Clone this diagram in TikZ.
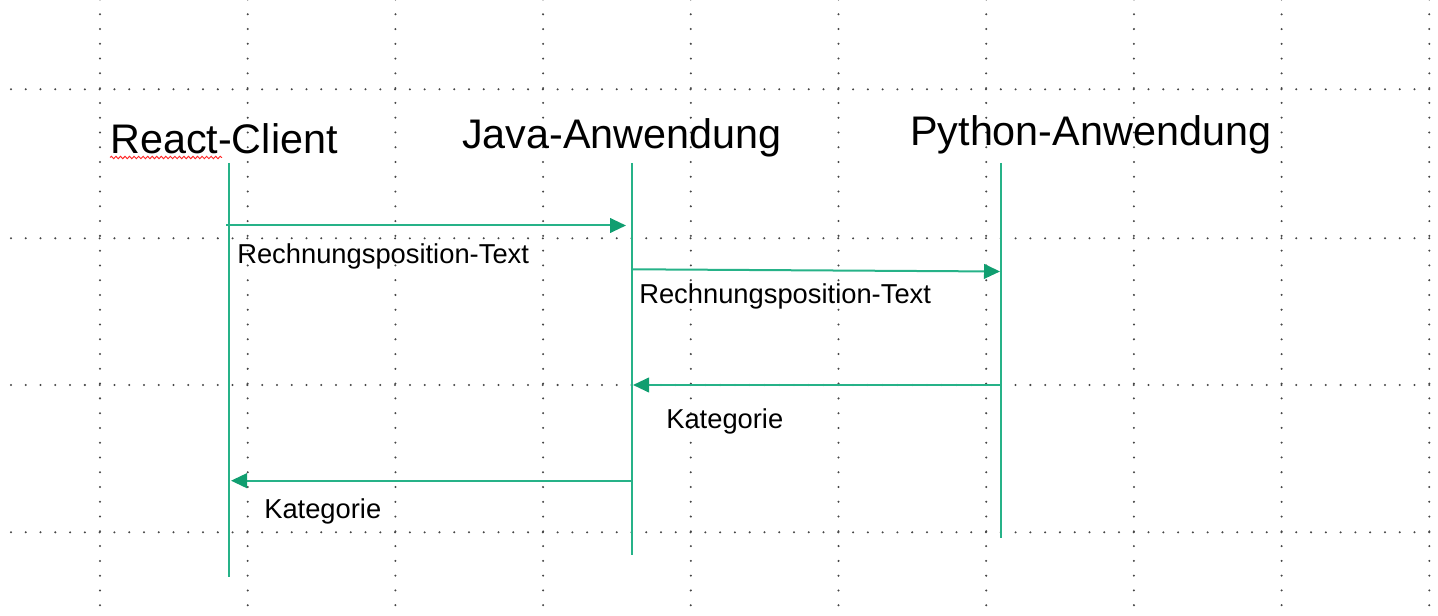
\documentclass[tikz,border=0pt]{standalone}
\usepackage{fontspec}
\setmainfont{Liberation Sans}
\usetikzlibrary{arrows.meta,decorations.pathmorphing}

\definecolor{lifegreen}{RGB}{38,178,136}
\definecolor{tipgreen}{RGB}{16,158,112}
\definecolor{dotgray}{RGB}{70,70,70}

\tikzset{
  griddots/.style={color=dotgray, line width=1.7pt, line cap=round, dash pattern=on 0pt off 11.08pt},
  lifeline/.style={color=lifegreen, line width=1.5pt},
  msg/.style={color=lifegreen, line width=1.5pt, -{Triangle[length=12pt,width=11pt,color=tipgreen]}},
  header/.style={anchor=base west, inner sep=0pt, font=\fontsize{31}{37}\selectfont},
  msglabel/.style={anchor=base west, inner sep=0pt, font=\fontsize{20.5}{24}\selectfont},
}

\begin{document}
\begin{tikzpicture}[x=0.75pt,y=0.75pt,yscale=-1,xscale=1]
\useasboundingbox (0,0) rectangle (1438,616);

%Straight Lines: vertical grid
\draw[griddots] (100,-0.5) -- (100,616);
\draw[griddots] (247.7,-0.5) -- (247.7,616);
\draw[griddots] (395.4,-0.5) -- (395.4,616);
\draw[griddots] (543.1,-0.5) -- (543.1,616);
\draw[griddots] (690.8,-0.5) -- (690.8,616);
\draw[griddots] (838.5,-0.5) -- (838.5,616);
\draw[griddots] (986.2,-0.5) -- (986.2,616);
\draw[griddots] (1133.9,-0.5) -- (1133.9,616);
\draw[griddots] (1281.6,-0.5) -- (1281.6,616);
\draw[griddots] (1429.3,-0.5) -- (1429.3,616);
%Straight Lines: horizontal grid
\draw[griddots] (11,89.3) -- (1438,89.3);
\draw[griddots] (11,238.3) -- (1438,238.3);
\draw[griddots] (11,385) -- (1438,385);
\draw[griddots] (11,532.3) -- (1438,532.3);

% Text Node
\node[header] (rc) at (110,153.3) {React-Client};
% Text Node
\node[header] (ja) at (462,148.3) {Java-Anwendung};
% Text Node
\node[header] (py) at (910,146) {Python-Anwendung};
%Shape: Wave (spell check mark)
\draw[color=red!85, line width=0.7pt, decorate, decoration={snake, amplitude=0.9pt, segment length=3.4pt}] (110,157.5) -- (222,157.5);

% lifeline ends
\coordinate (rcTop) at (229,163);
\coordinate (rcBot) at (229,577);
\coordinate (jaTop) at (632,163);
\coordinate (jaBot) at (632,555);
\coordinate (pyTop) at (1001,163);
\coordinate (pyBot) at (1001,538);

%Straight Lines
\draw[lifeline] (rcTop) -- (rcBot);
%Straight Lines
\draw[lifeline] (jaTop) -- (jaBot);
%Straight Lines
\draw[lifeline] (pyTop) -- (pyBot);

% message ends
\coordinate (m1a) at (226,225.5);
\coordinate (m1b) at (626,225.5);
\coordinate (m2a) at (632,269.3);
\coordinate (m2b) at (1000,271.5);
\coordinate (m3a) at (1001,385);
\coordinate (m3b) at (633,385);
\coordinate (m4a) at (632,480.7);
\coordinate (m4b) at (231,480.7);

%Straight Lines
\draw[msg] (m1a) -- (m1b);
%Straight Lines
\draw[msg] (m2a) -- (m2b);
%Straight Lines
\draw[msg] (m3a) -- (m3b);
%Straight Lines
\draw[msg] (m4a) -- (m4b);

% Text Node
\node[msglabel] (t1) at (237,263.3) {Rechnungsposition-Text};
% Text Node
\node[msglabel] (t2) at (639,303.3) {Rechnungsposition-Text};
% Text Node
\node[msglabel] (k1) at (666,428) {Kategorie};
% Text Node
\node[msglabel] (k2) at (264,518) {Kategorie};

\end{tikzpicture}
\end{document}
